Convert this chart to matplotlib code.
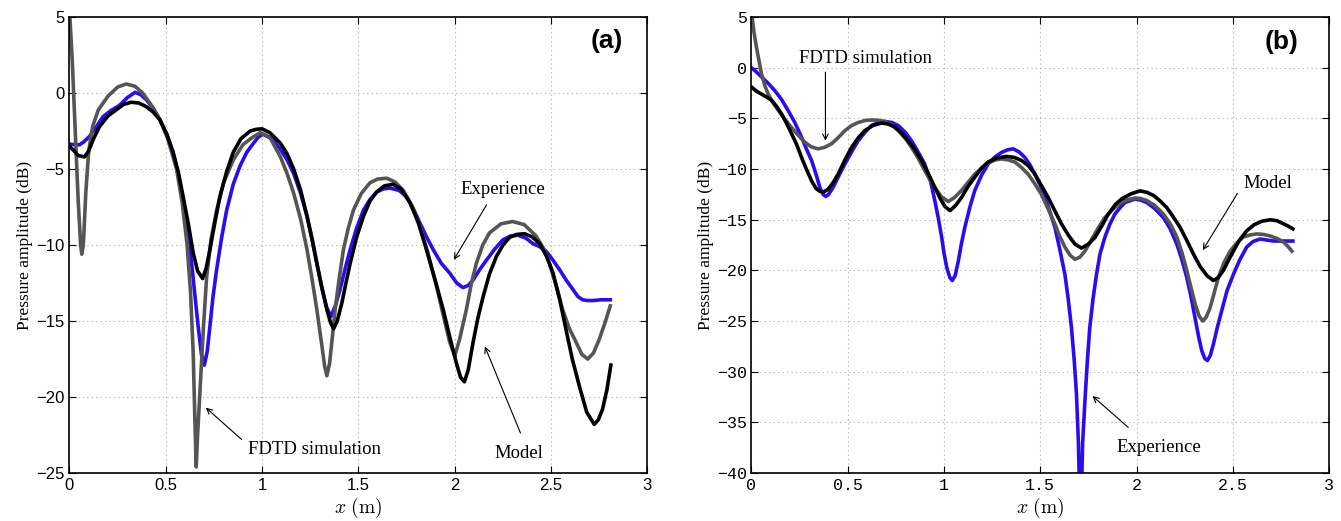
import matplotlib
matplotlib.use('Agg')
import matplotlib.pyplot as plt
from matplotlib.ticker import FuncFormatter

plt.rcParams['mathtext.fontset'] = 'cm'

# ---- panel (a) ----
a_fdtd_x = [0.0, 0.015, 0.03, 0.045, 0.058, 0.064, 0.072, 0.085, 0.10, 0.12, 0.15, 0.2, 0.25,
            0.295, 0.34, 0.38, 0.42, 0.47, 0.51, 0.556, 0.585, 0.61, 0.628, 0.642, 0.652, 0.658,
            0.665, 0.677, 0.695, 0.712, 0.735, 0.764, 0.80, 0.85, 0.90, 0.94, 0.99, 1.04,
            1.095, 1.13, 1.164, 1.2, 1.233, 1.26, 1.284, 1.31, 1.325, 1.336, 1.35, 1.365,
            1.379, 1.40, 1.422, 1.447, 1.474, 1.515, 1.56, 1.60, 1.647, 1.69, 1.733, 1.78,
            1.82, 1.86, 1.905, 1.94, 1.974, 2.0, 2.025, 2.06, 2.085, 2.112, 2.145, 2.18, 2.24,
            2.30, 2.36, 2.422, 2.46, 2.491, 2.525, 2.56, 2.595, 2.63, 2.66, 2.69, 2.72, 2.75,
            2.78, 2.807]
a_fdtd_y = [5.5, 2.0, -2.5, -7.0, -10.0, -10.6, -10.0, -6.5, -3.8, -2.2, -1.1, -0.2, 0.4,
            0.6, 0.45, 0.0, -0.7, -1.75, -3.0, -5.0, -7.2, -9.9, -13.0, -17.0, -22.0, -24.6,
            -22.5, -19.7, -15.5, -12.1, -9.6, -7.7, -5.9, -4.4, -3.4, -3.0, -2.6, -2.9,
            -4.2, -5.3, -6.6, -8.3, -10.3, -12.3, -14.25, -16.6, -18.0, -18.6, -17.8, -16.0,
            -14.25, -12.2, -10.3, -8.9, -7.7, -6.6, -5.9, -5.65, -5.6, -5.85, -6.4, -7.5,
            -8.8, -10.5, -12.7, -14.6, -16.4, -17.3, -16.2, -14.25, -12.6, -11.2, -10.0, -9.2,
            -8.6, -8.45, -8.65, -9.4, -10.2, -11.2, -12.6, -14.25, -15.5, -16.4, -17.2, -17.5,
            -17.1, -16.2, -15.1, -14.0]

a_model_x = [0.0, 0.02, 0.045, 0.078, 0.1, 0.125, 0.156, 0.2, 0.243, 0.28, 0.32, 0.36, 0.40,
             0.435, 0.469, 0.505, 0.538, 0.565, 0.59, 0.617, 0.642, 0.665, 0.691, 0.71, 0.729,
             0.755, 0.781, 0.815, 0.85, 0.89, 0.9375, 0.97, 1.0, 1.04, 1.095, 1.13, 1.164, 1.2,
             1.233, 1.26, 1.284, 1.31, 1.336, 1.355, 1.371, 1.39, 1.414, 1.435, 1.457, 1.49,
             1.526, 1.56, 1.595, 1.635, 1.68, 1.72, 1.767, 1.81, 1.853, 1.9, 1.94, 1.975,
             2.009, 2.03, 2.05, 2.07, 2.095, 2.12, 2.147, 2.18, 2.216, 2.25, 2.284, 2.32, 2.362,
             2.40, 2.44, 2.475, 2.509, 2.545, 2.578, 2.61, 2.647, 2.685, 2.724, 2.745, 2.767,
             2.79, 2.81]
a_model_y = [-3.5, -3.75, -4.1, -4.2, -3.8, -3.0, -2.2, -1.5, -1.1, -0.75, -0.6, -0.65, -0.9,
             -1.25, -1.75, -2.7, -3.9, -5.2, -6.8, -8.6, -10.5, -11.7, -12.2, -11.5, -10.3,
             -8.5, -6.8, -5.2, -3.9, -3.0, -2.5, -2.38, -2.35, -2.6, -3.3, -4.0, -5.0, -6.4,
             -8.1, -9.7, -11.2, -12.8, -14.25, -15.1, -15.5, -15.0, -13.8, -12.5, -11.2, -9.5,
             -8.1, -7.1, -6.5, -6.1, -6.0, -6.3, -7.2, -8.5, -10.3, -12.4, -14.25, -16.1,
             -17.8, -18.7, -19.0, -18.2, -16.4, -14.8, -13.4, -11.9, -10.75, -10.0, -9.5, -9.3,
             -9.25, -9.45, -9.9, -10.7, -11.8, -13.6, -15.6, -17.5, -19.3, -21.0, -21.8, -21.5,
             -20.8, -19.5, -17.9]

a_exp_x = [0.0, 0.03, 0.052, 0.075, 0.104, 0.14, 0.174, 0.215, 0.26, 0.30, 0.34, 0.37, 0.40,
           0.435, 0.469, 0.505, 0.538, 0.565, 0.59, 0.612, 0.634, 0.652, 0.668, 0.685, 0.70,
           0.715, 0.729, 0.745, 0.764, 0.79, 0.816, 0.85, 0.885, 0.92, 0.955, 0.98, 1.005,
           1.05, 1.095, 1.13, 1.164, 1.2, 1.233, 1.26, 1.284, 1.31, 1.335, 1.357, 1.38, 1.405,
           1.43, 1.457, 1.49, 1.526, 1.56, 1.595, 1.63, 1.664, 1.71, 1.75, 1.785, 1.819, 1.855,
           1.888, 1.93, 1.974, 2.01, 2.043, 2.07, 2.095, 2.13, 2.164, 2.205, 2.25, 2.29, 2.328,
           2.37, 2.405, 2.44, 2.474, 2.51, 2.543, 2.578, 2.612, 2.64, 2.664, 2.69, 2.716, 2.76,
           2.807]
a_exp_y = [-3.35, -3.4, -3.4, -3.2, -2.85, -2.2, -1.55, -1.15, -0.8, -0.3, 0.05, -0.1, -0.45,
           -1.0, -1.75, -2.7, -3.9, -5.4, -7.2, -9.0, -11.2, -13.4, -15.35, -17.2, -17.9,
           -17.0, -15.35, -13.4, -11.6, -9.5, -7.7, -6.0, -4.8, -3.9, -3.3, -2.9, -2.7,
           -3.0, -3.7, -4.4, -5.3, -6.6, -8.1, -9.6, -11.2, -12.8, -14.1, -14.7, -14.0, -12.9,
           -11.6, -10.3, -8.9, -7.7, -7.0, -6.5, -6.3, -6.25, -6.4, -6.8, -7.6, -8.55, -9.5,
           -10.3, -11.2, -11.85, -12.5, -12.8, -12.65, -12.3, -11.6, -11.0, -10.3, -9.65, -9.4,
           -9.35, -9.55, -9.9, -10.1, -10.4, -11.0, -11.6, -12.3, -12.9, -13.4, -13.6, -13.65,
           -13.65, -13.6, -13.6]

# ---- panel (b) ----
b_fdtd_x = [0.0, 0.013, 0.026, 0.04, 0.052, 0.07, 0.087, 0.11, 0.139, 0.17, 0.208, 0.245,
            0.277, 0.31, 0.346, 0.38, 0.416, 0.45, 0.485, 0.52, 0.554, 0.59, 0.623, 0.66, 0.693,
            0.73, 0.762, 0.80, 0.831, 0.865, 0.90, 0.925, 0.952, 0.985, 1.022, 1.055, 1.091,
            1.125, 1.16, 1.195, 1.229, 1.265, 1.299, 1.335, 1.368, 1.40, 1.437, 1.47, 1.506,
            1.54, 1.576, 1.60, 1.628, 1.655, 1.68, 1.705, 1.732, 1.765, 1.801, 1.835, 1.87,
            1.905, 1.94, 1.992, 2.02, 2.053, 2.095, 2.14, 2.175, 2.209, 2.235, 2.261, 2.283,
            2.304, 2.325, 2.344, 2.362, 2.382, 2.405, 2.425, 2.455, 2.486, 2.52, 2.555, 2.59,
            2.625, 2.66, 2.694, 2.73, 2.763, 2.785, 2.807]
b_fdtd_y = [5.5, 3.5, 2.0, 0.6, -0.6, -1.8, -2.6, -3.4, -4.2, -5.0, -5.9, -6.7, -7.35, -7.8,
            -8.0, -7.85, -7.5, -6.9, -6.2, -5.7, -5.4, -5.2, -5.15, -5.18, -5.3, -5.65, -6.2,
            -7.0, -7.85, -8.9, -10.15, -11.0, -11.8, -12.7, -13.2, -12.8, -12.1, -11.3, -10.5,
            -9.9, -9.4, -9.1, -9.0, -9.1, -9.3, -9.8, -10.5, -11.4, -12.5, -13.9, -15.4, -16.6,
            -17.7, -18.5, -18.9, -18.7, -18.1, -17.0, -15.8, -14.8, -14.1, -13.5, -13.1,
            -12.85, -12.9, -13.1, -13.6, -14.45, -15.4, -16.7, -18.2, -20.0, -21.7, -23.3,
            -24.5, -25.0, -24.6, -23.7, -22.1, -20.7, -19.2, -18.1, -17.3, -16.7, -16.5, -16.4,
            -16.45, -16.6, -16.85, -17.2, -17.6, -18.1]

b_model_x = [0.0, 0.025, 0.052, 0.08, 0.104, 0.13, 0.156, 0.18, 0.208, 0.235, 0.26, 0.285,
             0.312, 0.335, 0.355, 0.375, 0.398, 0.425, 0.45, 0.485, 0.52, 0.555, 0.589, 0.63,
             0.675, 0.71, 0.745, 0.78, 0.814, 0.85, 0.883, 0.92, 0.952, 0.98, 1.005, 1.031,
             1.06, 1.091, 1.125, 1.16, 1.195, 1.229, 1.275, 1.325, 1.365, 1.403, 1.44, 1.472,
             1.505, 1.541, 1.575, 1.61, 1.645, 1.68, 1.714, 1.75, 1.784, 1.82, 1.853, 1.89,
             1.922, 1.97, 2.018, 2.055, 2.088, 2.12, 2.157, 2.19, 2.226, 2.26, 2.296, 2.33,
             2.365, 2.399, 2.425, 2.451, 2.475, 2.503, 2.535, 2.572, 2.61, 2.65, 2.694, 2.73,
             2.763, 2.79, 2.812]
b_model_y = [-1.9, -2.3, -2.6, -2.9, -3.2, -3.8, -4.55, -5.4, -6.5, -7.6, -8.85, -10.0,
             -11.15, -11.9, -12.2, -12.25, -12.0, -11.3, -10.5, -9.1, -7.85, -6.9, -6.2, -5.7,
             -5.45, -5.55, -5.85, -6.45, -7.2, -8.1, -9.15, -10.5, -11.8, -12.9, -13.7, -14.1,
             -13.6, -12.8, -11.7, -10.8, -9.9, -9.3, -8.9, -8.75, -8.85, -9.15, -9.7, -10.5,
             -11.6, -12.8, -14.1, -15.4, -16.5, -17.4, -17.8, -17.4, -16.75, -15.6, -14.45,
             -13.5, -12.95, -12.45, -12.15, -12.3, -12.6, -13.1, -13.8, -14.7, -15.75, -17.0,
             -18.4, -19.6, -20.5, -21.0, -20.7, -20.0, -19.1, -18.1, -17.0, -16.1, -15.5,
             -15.15, -15.0, -15.1, -15.4, -15.65, -15.9]

b_exp_x = [0.0, 0.025, 0.052, 0.085, 0.121, 0.155, 0.19, 0.225, 0.26, 0.285, 0.312, 0.335,
           0.355, 0.372, 0.386, 0.40, 0.424, 0.455, 0.485, 0.52, 0.554, 0.59, 0.623, 0.66,
           0.693, 0.73, 0.762, 0.80, 0.831, 0.865, 0.90, 0.93, 0.952, 0.97, 0.988, 1.0, 1.014,
           1.03, 1.043, 1.058, 1.074, 1.09, 1.108, 1.135, 1.16, 1.195, 1.229, 1.265, 1.299,
           1.33, 1.359, 1.39, 1.42, 1.447, 1.472, 1.5, 1.524, 1.55, 1.576, 1.60, 1.628, 1.645,
           1.662, 1.676, 1.688, 1.698, 1.709, 1.72, 1.734, 1.745, 1.757, 1.774, 1.792, 1.81,
           1.835, 1.86, 1.887, 1.915, 1.94, 1.992, 2.02, 2.053, 2.095, 2.14, 2.175, 2.209,
           2.235, 2.261, 2.283, 2.304, 2.322, 2.339, 2.355, 2.368, 2.383, 2.399, 2.42, 2.442,
           2.47, 2.503, 2.535, 2.572, 2.605, 2.642, 2.675, 2.711, 2.76, 2.812]
b_exp_y = [0.0, -0.4, -0.9, -1.5, -2.25, -3.1, -4.2, -5.4, -6.85, -8.0, -9.15, -10.5, -11.8,
           -12.5, -12.7, -12.5, -11.8, -10.6, -9.5, -8.3, -7.2, -6.35, -5.7, -5.4, -5.3, -5.4,
           -5.7, -6.4, -7.2, -8.3, -9.5, -11.2, -13.1, -14.8, -16.75, -18.3, -19.7, -20.7,
           -21.0, -20.5, -19.1, -17.4, -15.75, -13.7, -12.1, -10.6, -9.5, -8.8, -8.35, -8.1,
           -8.0, -8.3, -8.85, -9.6, -10.5, -11.6, -12.8, -14.2, -15.75, -17.8, -20.4, -22.8,
           -25.65, -28.8, -32.2, -37.0, -46.0, -37.0, -32.2, -28.8, -25.65, -22.8, -20.4,
           -18.4, -16.75, -15.5, -14.45, -13.8, -13.3, -12.95, -13.05, -13.3, -13.9, -14.8,
           -15.9, -17.4, -18.9, -20.7, -22.6, -24.7, -26.5, -27.95, -28.7, -28.9, -28.4, -27.3,
           -25.6, -24.0, -22.0, -20.4, -19.0, -17.7, -17.15, -16.9, -17.0, -17.1, -17.1, -17.1]

blue = '#2a0cf2'
gray = '#555555'
lw = 2.6
serif = 'Liberation Serif'


def fmt(v, pos):
    return ('%g' % v).replace('-', '\u2212')


fig = plt.figure(figsize=(13.41, 5.21), dpi=100)
ax1 = fig.add_axes([0.0518, 0.0921, 0.431, 0.875])
ax2 = fig.add_axes([0.5604, 0.0921, 0.4307, 0.875])

ax1.plot(a_exp_x, a_exp_y, color=blue, lw=lw)
ax1.plot(a_fdtd_x, a_fdtd_y, color=gray, lw=lw)
ax1.plot(a_model_x, a_model_y, color='black', lw=lw)

ax2.plot(b_exp_x, b_exp_y, color=blue, lw=lw)
ax2.plot(b_fdtd_x, b_fdtd_y, color=gray, lw=lw)
ax2.plot(b_model_x, b_model_y, color='black', lw=lw)

for ax, lo, tickfont in [(ax1, -25, 'Liberation Sans'), (ax2, -40, 'Liberation Mono')]:
    ax.set_xlim(0, 3)
    ax.set_ylim(lo, 5)
    ax.set_xticks([0, 0.5, 1, 1.5, 2, 2.5, 3])
    ax.set_yticks(range(lo, 6, 5))
    ax.xaxis.set_major_formatter(FuncFormatter(fmt))
    ax.yaxis.set_major_formatter(FuncFormatter(fmt))
    ax.tick_params(direction='in', top=True, right=True, length=5, width=0.8,
                   labelsize=12, labelfontfamily=tickfont)
    ax.grid(True, linestyle=(0, (1, 3)), color='#aaaaaa', lw=0.8)
    for s in ax.spines.values():
        s.set_linewidth(1.2)
    ax.set_xlabel(r'$x\ \mathrm{(m)}$', fontsize=14, labelpad=2)
    ax.set_ylabel('Pressure amplitude (dB)', fontsize=12.5, family=serif, labelpad=2)

arrow = dict(arrowstyle='->', color='black', lw=0.8, shrinkA=0, shrinkB=0)
txt = dict(fontsize=13.5, family=serif, ha='center', va='center')

ax1.annotate('', xy=(1.995, -10.97), xytext=(2.165, -7.35), arrowprops=arrow)
ax1.text(2.252, -6.36, 'Experience', **txt)
ax1.annotate('', xy=(2.156, -16.67), xytext=(2.341, -22.37), arrowprops=arrow)
ax1.text(2.333, -23.7, 'Model', **txt)
ax1.annotate('', xy=(0.708, -20.7), xytext=(0.894, -22.8), arrowprops=arrow)
ax1.text(1.27, -23.47, 'FDTD simulation', **txt)
ax1.text(2.79, 3.4, '(a)', fontsize=19, fontweight='bold', family='Liberation Sans',
         ha='center', va='center')

ax2.annotate('', xy=(0.384, -7.2), xytext=(0.384, -0.43), arrowprops=arrow)
ax2.text(0.59, 0.9, 'FDTD simulation', **txt)
ax2.annotate('', xy=(1.771, -32.4), xytext=(1.957, -35.5), arrowprops=arrow)
ax2.text(2.117, -37.5, 'Experience', **txt)
ax2.annotate('', xy=(2.344, -18.0), xytext=(2.524, -12.4), arrowprops=arrow)
ax2.text(2.681, -11.4, 'Model', **txt)
ax2.text(2.754, 2.54, '(b)', fontsize=19, fontweight='bold', family='Liberation Sans',
         ha='center', va='center')

fig.savefig('out.png', dpi=100)
